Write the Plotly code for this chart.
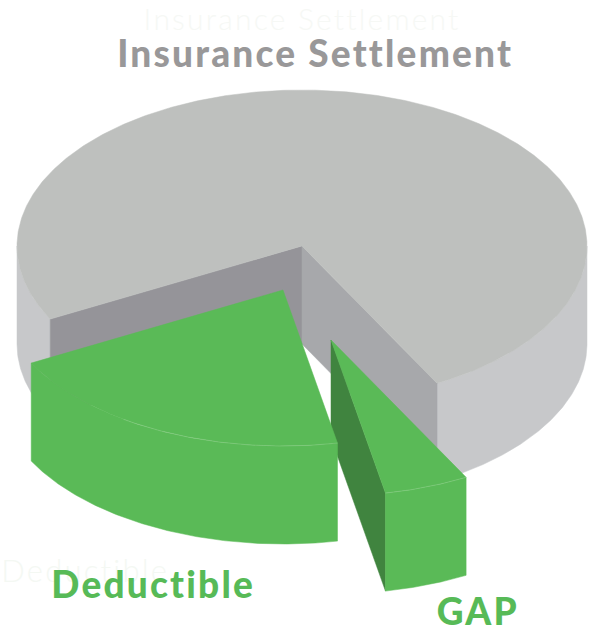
import numpy as np
import plotly.graph_objects as go

categories = ["GAP", "Deductible", "Insurance Settlement"]
values = [4.8, 20.3, 74.9]

WIDTH, HEIGHT = 590, 627
START = 61.7
RX, RY, DEPTH = 285, 156, 98
CENTERS = {"Insurance Settlement": (302, 246), "Deductible": (283, 290), "GAP": (331, 340)}

GREEN, GREEN_DARK = "#5aba57", "#40843f"
G_TOP, G_SIDE, G_WALL_L, G_WALL_R = "#bec0be", "#c7c8ca", "#959499", "#a7a8ab"
SEAM = "rgba(255,255,255,0.2)"

# slice angles derived from the values
spans = {}
a = START
for c, v in zip(categories, values):
    spans[c] = (a, a + v / sum(values) * 360)
    a = spans[c][1]


def arc(c, a0, a1, dz=0):
    t = np.radians(np.linspace(a0, a1, max(int(abs(a1 - a0)) * 2, 2) + 1))
    cx, cy = CENTERS[c]
    return cx + RX * np.cos(t), cy + RY * np.sin(t) + dz


fig = go.Figure()


def poly(xs, ys, color):
    fig.add_trace(go.Scatter(x=list(xs) + [xs[0]], y=list(ys) + [ys[0]], mode="lines",
                             fill="toself", fillcolor=color, line=dict(color=color, width=0.5),
                             hoverinfo="skip", showlegend=False))


def band(c, a0, a1, color):
    x0, y0 = arc(c, a0, a1)
    x1, y1 = arc(c, a0, a1, DEPTH)
    poly(np.r_[x0, x1[::-1]], np.r_[y0, y1[::-1]], color)


def wall(c, ang, color):
    cx, cy = CENTERS[c]
    x, y = arc(c, ang, ang)
    px, py = x[0], y[0]
    poly([cx, px, px, cx], [cy, py, py + DEPTH, cy + DEPTH], color)


def top(c, a0, a1, color):
    x, y = arc(c, a0, a1)
    cx, cy = CENTERS[c]
    poly(np.r_[cx, x], np.r_[cy, y], color)


def seam(c, a0, a1):
    x, y = arc(c, a0, a1)
    fig.add_trace(go.Scatter(x=x, y=y, mode="lines", line=dict(color=SEAM, width=0.8),
                             hoverinfo="skip", showlegend=False))


gap_a0, gap_a1 = spans["GAP"]
ded_a0, ded_a1 = spans["Deductible"]

# Insurance Settlement body
c = "Insurance Settlement"
s0, s1 = spans[c]
band(c, 0, gap_a0, G_SIDE)
band(c, ded_a1, 180, G_SIDE)
wall(c, ded_a1, G_WALL_L)
wall(c, gap_a0, G_WALL_R)
top(c, s0, s1, G_TOP)

# GAP
c = "GAP"
wall(c, gap_a1, GREEN_DARK)
band(c, gap_a0, gap_a1, GREEN)
top(c, gap_a0, gap_a1, GREEN)
seam(c, gap_a0, gap_a1)

# Deductible
c = "Deductible"
band(c, ded_a0, ded_a1, GREEN)
top(c, ded_a0, ded_a1, GREEN)
seam(c, ded_a0, ded_a1 - 28)

FONT = "Lato"
ann = [
    ("Insurance Settlement", 302, 18, "#f6f8f5", 30, 300),
    ("Deductible", 85, 570, "#f4f8f3", 31, 300),
    ("Insurance Settlement", 315, 52, "#999899", 37, 900),
    ("Deductible", 153, 583, "#57ba57", 37, 900),
    ("GAP", 478, 610, "#57ba57", 37, 900),
]
for text, x, y, col, size, wt in ann:
    fig.add_annotation(x=x, y=y, text=text, showarrow=False,
                       xanchor="center", yanchor="middle", xref="x", yref="y",
                       font=dict(family=FONT, size=size, color=col, weight=wt))

fig.update_layout(
    width=WIDTH, height=HEIGHT, margin=dict(l=0, r=0, t=0, b=0),
    paper_bgcolor="white", plot_bgcolor="white", showlegend=False,
    xaxis=dict(range=[0, WIDTH], visible=False, fixedrange=True),
    yaxis=dict(range=[HEIGHT, 0], visible=False, fixedrange=True),
)
fig.write_html("out.html", config={"displayModeBar": False},
               post_script="document.body.style.margin='0';document.querySelectorAll('.annotation-text').forEach(function(t){t.style.letterSpacing='2.2px';});")
